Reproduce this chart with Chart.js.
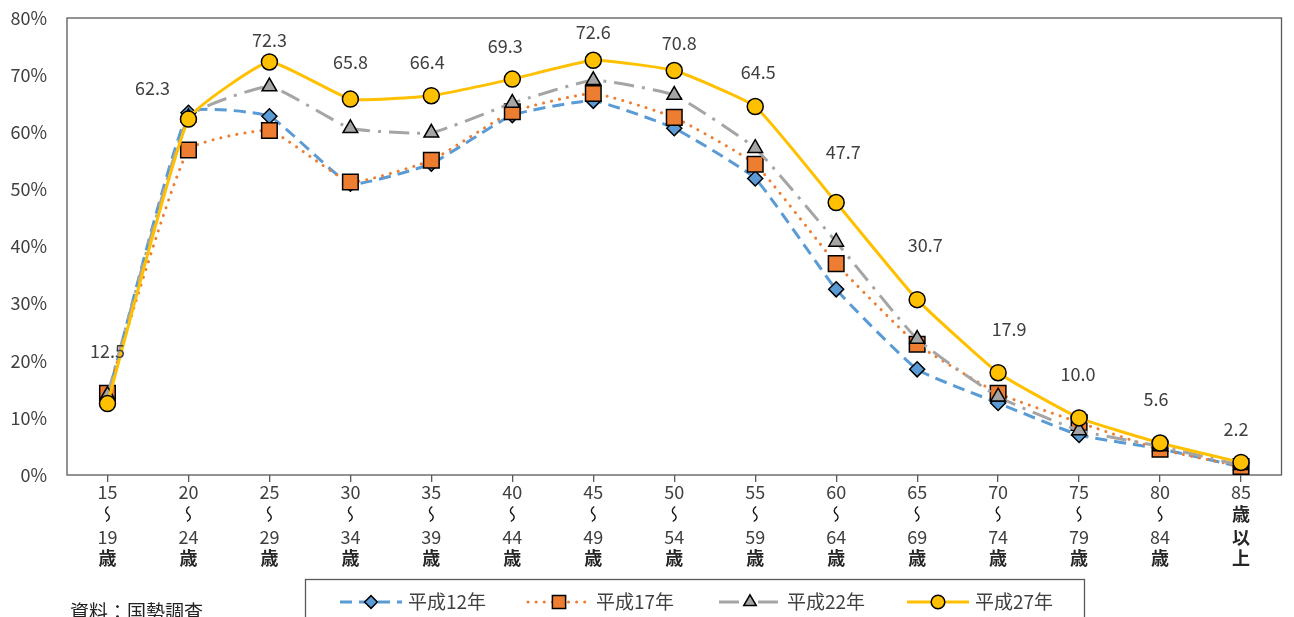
<!DOCTYPE html>
<html>
<head>
<meta charset="utf-8">
<script src="https://cdn.jsdelivr.net/npm/chart.js@4.4.1/dist/chart.umd.min.js"></script>
<style>
  html, body { margin: 0; padding: 0; background: #fff; overflow: hidden; }
  #wrap { position: relative; width: 1294px; height: 617px; }
</style>
</head>
<body>
<div id="wrap"><canvas id="chart"></canvas></div>
<script>
// age groups (x axis); "≀" marks the vertical wave between the two ages
const ageGroups = [
  ["15", "≀", "19", "歳"], ["20", "≀", "24", "歳"], ["25", "≀", "29", "歳"],
  ["30", "≀", "34", "歳"], ["35", "≀", "39", "歳"], ["40", "≀", "44", "歳"],
  ["45", "≀", "49", "歳"], ["50", "≀", "54", "歳"], ["55", "≀", "59", "歳"],
  ["60", "≀", "64", "歳"], ["65", "≀", "69", "歳"], ["70", "≀", "74", "歳"],
  ["75", "≀", "79", "歳"], ["80", "≀", "84", "歳"], ["85", "歳", "以", "上"]
];
const seriesNames = ["平成12年", "平成17年", "平成22年", "平成27年"];

// percentages
const h12 = [13.6, 63.4, 62.8, 51.0, 54.5, 63.0, 65.5, 60.7, 51.9, 32.5, 18.5, 12.6, 7.0, 4.6, 1.4];
const h17 = [14.3, 56.9, 60.3, 51.3, 55.1, 63.6, 66.8, 62.6, 54.4, 37.0, 22.9, 14.3, 9.2, 4.5, 1.5];
const h22 = [14.0, 62.6, 68.0, 60.7, 59.9, 65.1, 69.1, 66.5, 57.2, 40.8, 23.8, 13.7, 7.8, 5.0, 1.7];
const h27 = [12.5, 62.3, 72.3, 65.8, 66.4, 69.3, 72.6, 70.8, 64.5, 47.7, 30.7, 17.9, 10.0, 5.6, 2.2];

const yMin = 0, yMax = 80, yStep = 10;
const sourceNote = "資料：国勢調査";

const FONT = "'Noto Sans CJK JP', 'Noto Sans', sans-serif";
const TEXT = "#404040";
const FRAME = "#595959";

// nudges for the value labels of 平成27年 (label placement only)
const labelNudge = [
  [0, -52], [-36, -31], [0, -22], [0, -37], [-4, -34], [-7, -33], [0, -28], [5, -27],
  [3, -34], [7, -50], [8, -54], [11, -44], [-1, -44], [-4, -44], [-5, -33]
];

const styles = [
  { color: "#5B9BD5", dash: [12, 7], cap: "butt", point: "rectRot", r: 7.5 },
  { color: "#ED7D31", dash: [0.1, 8], cap: "round", point: "rect", r: 11 },
  { color: "#A5A5A5", dash: [20, 8, 3, 8], cap: "butt", point: "triangle", r: 8.5 },
  { color: "#FFC000", dash: [], cap: "butt", point: "circle", r: 8 }
];
const seriesData = [h12, h17, h22, h27];

const datasets = seriesData.map((vals, i) => ({
  label: seriesNames[i],
  data: vals,
  borderColor: styles[i].color,
  backgroundColor: styles[i].color,
  borderWidth: 3,
  borderDash: styles[i].dash,
  borderCapStyle: styles[i].cap,
  pointStyle: styles[i].point,
  pointRadius: styles[i].r,
  pointBackgroundColor: styles[i].color,
  pointBorderColor: "#000",
  pointBorderWidth: 1.5,
  tension: 0.13,
  order: 3 - i,
  fill: false
}));

const framePlugin = {
  id: "frame",
  beforeDatasetsDraw(chart) {
    const { ctx, chartArea: a } = chart;
    ctx.save();
    ctx.strokeStyle = FRAME;
    ctx.lineWidth = 1.3;
    ctx.strokeRect(a.left, a.top, a.right - a.left, a.bottom - a.top);
    ctx.restore();
  }
};

// x tick labels drawn by hand so the wave looks like Excel's vertical "～"
const xLabelPlugin = {
  id: "xlabels",
  afterDraw(chart) {
    const { ctx, scales: { x }, chartArea: a } = chart;
    const lineY = [17, 39, 62, 83];
    ctx.save();
    ctx.textAlign = "center";
    ctx.textBaseline = "middle";
    ageGroups.forEach((lines, i) => {
      const px = x.getPixelForTick(i);
      lines.forEach((s, j) => {
        const py = a.bottom + lineY[j];
        if (s === "≀") {
          ctx.save();
          ctx.strokeStyle = "#111";
          ctx.lineWidth = 1.4;
          ctx.beginPath();
          ctx.moveTo(px + 1, py - 7.5);
          ctx.bezierCurveTo(px - 3, py - 5, px - 2.5, py - 2, px, py);
          ctx.bezierCurveTo(px + 2.5, py + 2, px + 3, py + 5, px - 1.5, py + 7.5);
          ctx.stroke();
          ctx.restore();
        } else if (/\d/.test(s)) {
          ctx.font = "18px " + FONT;
          ctx.fillStyle = TEXT;
          ctx.fillText(s, px, py);
        } else {
          ctx.font = "bold 18px " + FONT;
          ctx.fillStyle = "#262626";
          ctx.fillText(s, px, py);
        }
      });
    });
    ctx.restore();
  }
};

function drawMarker(ctx, st, x, y) {
  ctx.save();
  ctx.fillStyle = st.color;
  ctx.strokeStyle = "#000";
  ctx.lineWidth = 1.5;
  Chart.helpers.drawPoint(ctx, { pointStyle: st.point, radius: st.r, rotation: 0, borderWidth: 1.5 }, x, y);
  ctx.restore();
}

const extrasPlugin = {
  id: "extras",
  afterDraw(chart) {
    const { ctx } = chart;
    const meta = chart.getDatasetMeta(3);
    ctx.save();
    // value labels of 平成27年
    ctx.font = "18px " + FONT;
    ctx.fillStyle = TEXT;
    ctx.textAlign = "center";
    ctx.textBaseline = "middle";
    meta.data.forEach((pt, i) => {
      ctx.fillText(h27[i].toFixed(1), pt.x + labelNudge[i][0], pt.y + labelNudge[i][1]);
    });

    // source note
    ctx.textAlign = "left";
    ctx.fillStyle = "#222";
    ctx.font = "19px " + FONT;
    ctx.fillText(sourceNote, 70, 612);

    // legend box
    ctx.strokeStyle = FRAME;
    ctx.lineWidth = 1.3;
    ctx.strokeRect(305.5, 579.5, 779, 60);
    const itemX = [340, 528, 719, 907];
    const cy = 602;
    styles.forEach((st, i) => {
      const x0 = itemX[i];
      ctx.save();
      ctx.strokeStyle = st.color;
      ctx.lineWidth = 3;
      ctx.setLineDash(st.dash);
      ctx.lineCap = st.cap;
      ctx.beginPath();
      ctx.moveTo(x0, cy);
      ctx.lineTo(x0 + 62, cy);
      ctx.stroke();
      ctx.restore();
      drawMarker(ctx, Object.assign({}, st, { r: st.r * 0.85 }), x0 + 31, cy);
      ctx.fillStyle = TEXT;
      ctx.font = "19px " + FONT;
      ctx.textAlign = "left";
      ctx.textBaseline = "middle";
      ctx.fillText(seriesNames[i], x0 + 68, cy);
    });
    ctx.restore();
  }
};

new Chart(document.getElementById("chart").getContext("2d"), {
  type: "line",
  data: { labels: ageGroups, datasets: datasets },
  options: {
    responsive: true,
    maintainAspectRatio: false,
    animation: false,
    layout: { padding: { top: 18, right: 8, left: 0, bottom: 0 } },
    plugins: {
      legend: { display: false },
      tooltip: { enabled: false }
    },
    scales: {
      x: {
        offset: true,
        grid: { offset: false, drawOnChartArea: false, tickLength: 7, color: FRAME, lineWidth: 1.3 },
        border: { display: false },
        ticks: { display: false, autoSkip: false },
        afterFit(scale) { scale.height = 142; }
      },
      y: {
        min: yMin,
        max: yMax,
        // invisible tick marks push the labels left without adding top padding
        grid: { drawOnChartArea: false, drawTicks: true, tickLength: 17, color: "rgba(0,0,0,0)" },
        border: { display: false },
        ticks: {
          stepSize: yStep,
          color: TEXT,
          padding: 3,
          font: { family: FONT, size: 18 },
          callback: v => v + "%"
        },
        afterFit(scale) { scale.width = 67; }
      }
    }
  },
  plugins: [framePlugin, xLabelPlugin, extrasPlugin]
});
</script>
</body>
</html>
